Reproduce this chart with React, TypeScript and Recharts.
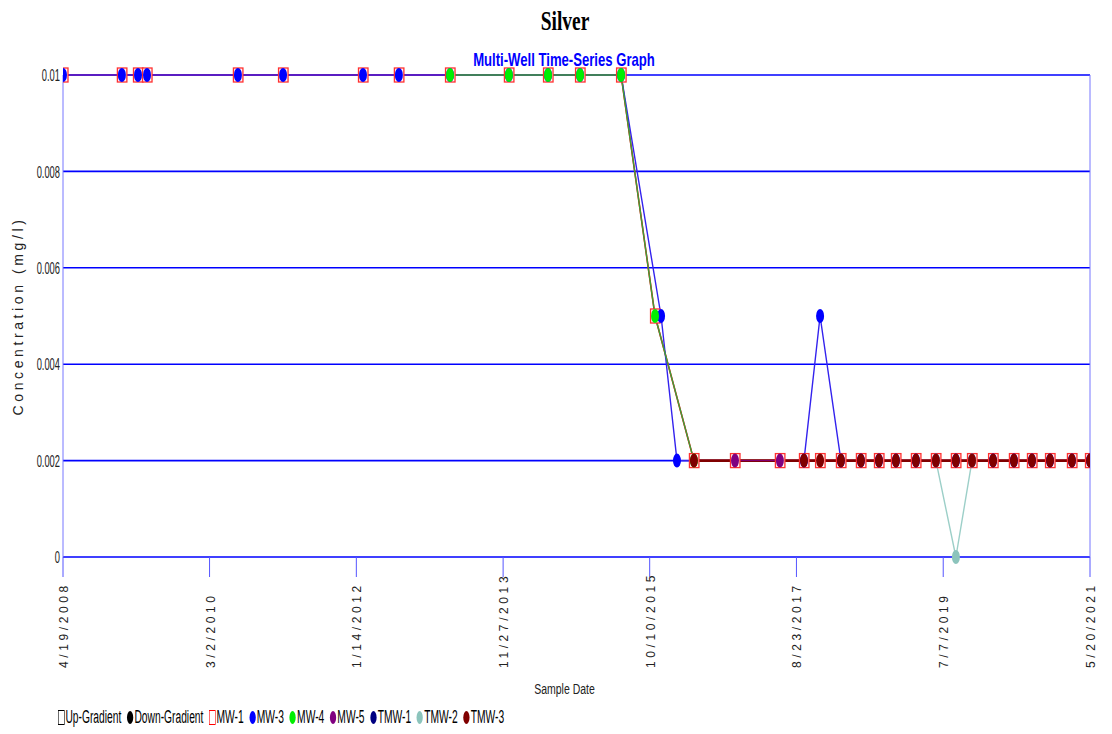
import React from "react";
import {
  LineChart,
  Line,
  XAxis,
  YAxis,
  CartesianGrid,
  ReferenceLine,
} from "recharts";

// x-axis tick labels (m/d/yyyy)
const tickDates = [
  "4/19/2008", "3/2/2010", "1/14/2012", "11/27/2013",
  "10/10/2015", "8/23/2017", "7/7/2019", "5/20/2021",
];
const yTicks = [0, 0.002, 0.004, 0.006, 0.008, 0.01];

// sample dates
const earlyDates = [
  "4/19/2008", "1/18/2009", "4/3/2009", "5/15/2009", "7/12/2010", "2/7/2011",
  "2/14/2012", "7/30/2012", "3/25/2013", "12/24/2013", "6/24/2014", "11/20/2014", "5/30/2015",
];
const lateDates = [
  "9/27/2017", "12/11/2017", "3/18/2018", "6/19/2018", "9/11/2018", "11/29/2018",
  "3/2/2019", "6/3/2019", "9/4/2019", "11/18/2019", "2/24/2020", "5/31/2020",
  "8/23/2020", "11/15/2020", "2/25/2021", "5/20/2021",
];

const mw1Dates = [...earlyDates, "11/4/2015", "5/3/2016", "11/10/2016", "6/7/2017", ...lateDates];
const mw1Values = [
  ...earlyDates.map(() => 0.01), 0.005, 0.002, 0.002, 0.002, ...lateDates.map(() => 0.002),
];

const mw3Dates = [...earlyDates, "12/2/2015", "2/14/2016", ...lateDates];
const mw3Values = [
  ...earlyDates.map(() => 0.01), 0.005, 0.002,
  0.002, 0.005, 0.002, 0.002, 0.002, 0.002, 0.002, 0.002, 0.002, 0.002,
  0.002, 0.002, 0.002, 0.002, 0.002, 0.002,
];

const mw4Dates = ["3/25/2013", "12/24/2013", "6/24/2014", "11/20/2014", "5/30/2015", "11/4/2015", "5/3/2016"];
const mw4Values = [0.01, 0.01, 0.01, 0.01, 0.01, 0.005, 0.002];

const mw5Dates = ["11/10/2016", "6/7/2017"];
const mw5Values = [0.002, 0.002];

const tmw2Dates = ["6/3/2019", "9/4/2019", "11/18/2019"];
const tmw2Values = [0.002, 0, 0.002];

const tmw3Dates = ["5/3/2016", ...lateDates];
const tmw3Values = [0.002, ...lateDates.map(() => 0.002)];

function toT(s: string) {
  const [m, d, y] = s.split("/").map(Number);
  return Date.UTC(y, m - 1, d);
}

function series(dates: string[], values: number[]) {
  return dates.map((d, i) => ({ t: toT(d), v: values[i] }));
}

const ellipseDot = (color: string) => (p: any) =>
  p.cx == null ? (
    <g key={`${color}-${p.index}`} />
  ) : (
    <ellipse key={`${color}-${p.index}`} cx={p.cx} cy={p.cy} rx={4} ry={7} fill={color} />
  );

const squareDot = (p: any) =>
  p.cx == null ? (
    <g key={`sq-${p.index}`} />
  ) : (
    <rect
      key={`sq-${p.index}`}
      x={p.cx - 4.5}
      y={p.cy - 7}
      width={9.5}
      height={14}
      fill="#fff4f4"
      stroke="#ff3030"
      strokeWidth={1.3}
    />
  );

const DateTick = ({ x, y, payload }: any) => {
  const label = tickDates.find((d) => toT(d) === payload.value) || "";
  return (
    <text
      transform={`translate(${x + 5},${y + 89}) rotate(-90)`}
      fontSize={12}
      letterSpacing={3.6}
      fill="#222"
      fontFamily="'Liberation Sans', Arial, sans-serif"
    >
      {label}
    </text>
  );
};

const ValTick = ({ x, y, payload }: any) => (
  <g transform={`translate(${x},${y})`}>
    <text
      transform="scale(0.55,1)"
      textAnchor="end"
      dy="0.36em"
      fontSize={17}
      fill="#222"
      fontFamily="'Liberation Sans', Arial, sans-serif"
    >
      {String(+payload.value.toFixed(3))}
    </text>
  </g>
);

const legendItems = [
  { name: "Up-Gradient", shape: "square", color: "#000" },
  { name: "Down-Gradient", shape: "circle", color: "#000" },
  { name: "MW-1", shape: "square", color: "#ff0000" },
  { name: "MW-3", shape: "circle", color: "#0000ff" },
  { name: "MW-4", shape: "circle", color: "#00ee00" },
  { name: "MW-5", shape: "circle", color: "#800080" },
  { name: "TMW-1", shape: "circle", color: "#000080" },
  { name: "TMW-2", shape: "circle", color: "#8cc4bc" },
  { name: "TMW-3", shape: "circle", color: "#800000" },
];

export default function App() {
  const t0 = toT(tickDates[0]);
  const t1 = toT(tickDates[tickDates.length - 1]);

  return (
    <div style={{ position: "relative", width: 1112, height: 734, background: "#fff" }}>
      <style>{`body{margin:0}`}</style>
      <LineChart width={1112} height={734} margin={{ top: 75, right: 22, bottom: 37, left: 0 }}>
        <CartesianGrid vertical={false} stroke="#0000ff" strokeWidth={1.6} />
        <XAxis
          type="number"
          dataKey="t"
          domain={[t0, t1]}
          ticks={tickDates.map(toT)}
          allowDataOverflow
          height={140}
          axisLine={false}
          tickSize={20}
          tickMargin={2}
          tickLine={{ stroke: "#5555ff" }}
          tick={<DateTick />}
          interval={0}
          label={{
            value: "Sample Date",
            position: "insideBottom",
            offset: 3,
            dx: -12,
            fontSize: 14,
            fill: "#222",
            fontFamily: "'Liberation Sans', Arial, sans-serif",
            style: { transform: "scaleX(0.75)", transformBox: "fill-box", transformOrigin: "center" },
          }}
        />
        <YAxis
          type="number"
          domain={[0, 0.01]}
          ticks={yTicks}
          width={63}
          axisLine={{ stroke: "#7777ff" }}
          tickLine={false}
          tickSize={3}
          tickMargin={0}
          tick={<ValTick />}
          interval={0}
          label={{
            value: "Concentration (mg/l)",
            angle: -90,
            position: "center",
            dx: -13,
            fontSize: 14,
            letterSpacing: 3.6,
            fill: "#222",
            fontFamily: "'Liberation Sans', Arial, sans-serif",
          }}
        />
        <ReferenceLine x={t1} stroke="#7777ff" />
        <Line
          data={series(mw1Dates, mw1Values)}
          dataKey="v"
          stroke="#ff0000"
          strokeWidth={1.6}
          dot={squareDot}
          isAnimationActive={false}
        />
        <Line
          data={series(mw3Dates, mw3Values)}
          dataKey="v"
          stroke="#3322ee"
          strokeWidth={1.4}
          dot={ellipseDot("#0000ff")}
          isAnimationActive={false}
        />
        <Line
          data={series(mw4Dates, mw4Values)}
          dataKey="v"
          stroke="#3aa03a"
          strokeWidth={1.4}
          dot={ellipseDot("#00ee00")}
          isAnimationActive={false}
        />
        <Line
          data={series(tmw2Dates, tmw2Values)}
          dataKey="v"
          stroke="#9ccfc8"
          strokeWidth={1.4}
          dot={ellipseDot("#8cc4bc")}
          isAnimationActive={false}
        />
        <Line
          data={series(tmw3Dates, tmw3Values)}
          dataKey="v"
          stroke="#800000"
          strokeWidth={2.6}
          dot={ellipseDot("#800000")}
          isAnimationActive={false}
        />
        <Line
          data={series(mw5Dates, mw5Values)}
          dataKey="v"
          stroke="#800080"
          strokeWidth={1}
          dot={ellipseDot("#800080")}
          isAnimationActive={false}
        />
      </LineChart>

      <div
        style={{
          position: "absolute",
          top: 6,
          left: 0,
          width: 1130,
          textAlign: "center",
          fontFamily: "'Liberation Serif', 'Times New Roman', serif",
          fontWeight: "bold",
          fontSize: 27,
          transform: "scaleX(0.72)",
          transformOrigin: "565px 0",
        }}
      >
        Silver
      </div>
      <div
        style={{
          position: "absolute",
          top: 49,
          left: 0,
          width: 1128,
          textAlign: "center",
          fontFamily: "'Liberation Sans', Arial, sans-serif",
          fontWeight: "bold",
          fontSize: 19,
          color: "#0000ff",
          transform: "scaleX(0.69)",
          transformOrigin: "564px 0",
        }}
      >
        Multi-Well Time-Series Graph
      </div>

      <div
        style={{
          position: "absolute",
          top: 707,
          left: 58,
          whiteSpace: "nowrap",
          fontFamily: "'Liberation Sans', Arial, sans-serif",
          fontSize: 18,
          color: "#000",
          transform: "scaleX(0.57)",
          transformOrigin: "0 0",
          display: "flex",
          alignItems: "center",
        }}
      >
        {legendItems.map((it) => (
          <span key={it.name} style={{ display: "inline-flex", alignItems: "center", marginRight: 10 }}>
            <span
              style={
                it.shape === "square"
                  ? { display: "inline-block", width: 12, height: 15, border: `1.5px solid ${it.color}`, boxSizing: "border-box", marginRight: 1 }
                  : { display: "inline-block", width: 11, height: 13, borderRadius: "50%", background: it.color, marginRight: 2 }
              }
            />
            {it.name}
          </span>
        ))}
      </div>
    </div>
  );
}
